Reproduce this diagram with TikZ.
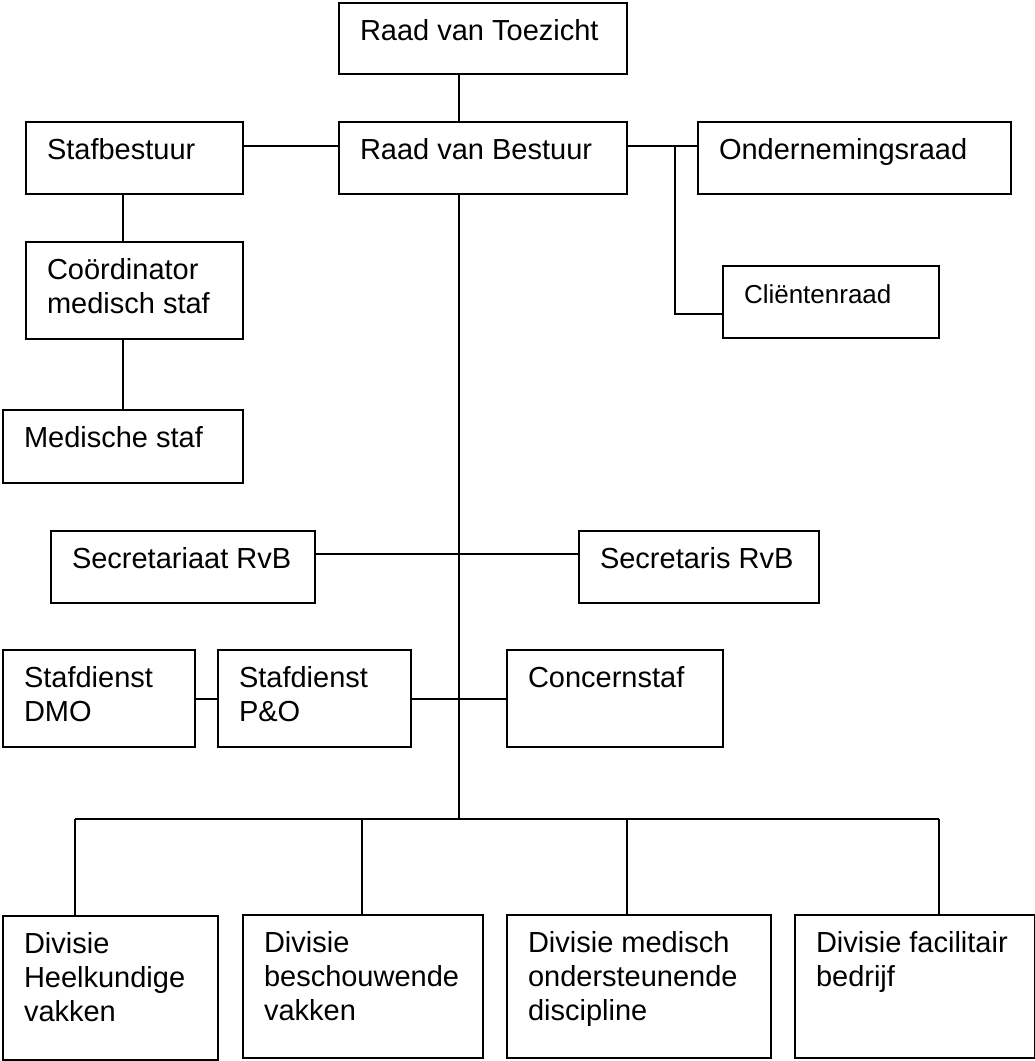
\documentclass[tikz,border=0pt]{standalone}
\usepackage{fontspec}
\setmainfont{Liberation Sans}
\begin{document}
\begin{tikzpicture}[x=1pt,y=-1pt,
  box/.style={draw=black, line width=1.8pt, fill=none, inner sep=0pt, outer sep=0pt, rectangle},
  lbl/.style={inner sep=0pt, outer sep=0pt, align=left, font=\fontsize{29}{34}\selectfont},
  conn/.style={draw=black, line width=1.3pt}]

% frame of the chart
\useasboundingbox (0,0) rectangle (1035,1061);

% box: name, left, top, right, bottom, text (text set top-left inside)
\newcommand\orgbox[7][]{%
  \node[box, anchor=north west, minimum width={(#5-#3)*1pt}, minimum height={(#6-#4)*1pt}] (#2) at (#3,#4) {};
  \node[lbl, anchor=north west, #1] (#2-t) at ([xshift=21pt,yshift=-11pt]#2.north west) {\rule{0pt}{26pt}#7};
}

% top level
\orgbox{rvt}{339}{3}{627}{74}{Raad van Toezicht}
\orgbox{rvb}{339}{122}{627}{194}{Raad van Bestuur}
\orgbox{stafb}{26}{122}{243}{194}{Stafbestuur}
\orgbox{ondr}{698}{122}{1011}{194}{Ondernemingsraad}
\orgbox[font=\fontsize{26}{31}\selectfont]{clr}{723}{266}{939}{338}{Cliëntenraad}

% medical staff column
\orgbox{coord}{26}{242}{243}{339}{Coördinator\\medisch staf}
\orgbox{med}{3}{410}{243}{483}{Medische staf}

% secretariat row
\orgbox{secr}{51}{531}{315}{603}{Secretariaat RvB}
\orgbox{secs}{579}{531}{819}{603}{Secretaris RvB}

% staff services row
\orgbox{dmo}{3}{650}{195}{747}{Stafdienst\\DMO}
\orgbox{po}{218}{650}{411}{747}{Stafdienst\\P\&O}
\orgbox{cs}{507}{650}{723}{747}{Concernstaf}

% divisions
\orgbox{div1}{3}{916}{218}{1060}{Divisie\\Heelkundige\\vakken}
\orgbox{div2}{243}{915}{483}{1058}{Divisie\\beschouwende\\vakken}
\orgbox{div3}{507}{915}{771}{1058}{Divisie medisch\\ondersteunende\\discipline}
\orgbox{div4}{795}{915}{1035}{1058}{Divisie facilitair\\bedrijf}

% reference points for the connector lines
\coordinate (spine) at (459,0);
\coordinate (topy) at (0,146);
\coordinate (branch) at (675,146);
\coordinate (cliy) at (0,314);
\coordinate (medx) at (123,0);
\coordinate (secy) at (0,554);
\coordinate (stafy) at (0,699);
\coordinate (bus1) at (75,819);
\coordinate (bus2) at (362,819);
\coordinate (bus3) at (627,819);
\coordinate (bus4) at (939,819);

% connectors
\draw[conn] (rvt.south -| spine) -- (rvb.north -| spine);
\draw[conn] (stafb.east |- topy) -- (rvb.west |- topy);
\draw[conn] (rvb.east |- topy) -- (ondr.west |- topy);
\draw[conn] (branch) |- (clr.west |- cliy);
\draw[conn] (stafb.south -| medx) -- (coord.north -| medx);
\draw[conn] (coord.south -| medx) -- (med.north -| medx);
\draw[conn] (rvb.south -| spine) -- (spine |- bus1);
\draw[conn] (secr.east |- secy) -- (secs.west |- secy);
\draw[conn] (dmo.east |- stafy) -- (po.west |- stafy);
\draw[conn] (po.east |- stafy) -- (cs.west |- stafy);
\draw[conn] (bus1) -- (bus4);
\draw[conn] (bus1) -- (bus1 |- div1.north);
\draw[conn] (bus2) -- (bus2 |- div2.north);
\draw[conn] (bus3) -- (bus3 |- div3.north);
\draw[conn] (bus4) -- (bus4 |- div4.north);
\end{tikzpicture}
\end{document}
